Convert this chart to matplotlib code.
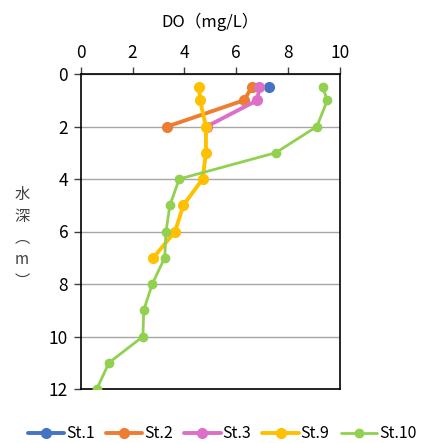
import matplotlib.pyplot as plt

plt.rcParams['font.family'] = ['Noto Sans CJK JP', 'DejaVu Sans']

stations = ['St.1', 'St.2', 'St.3', 'St.9', 'St.10']
colors = ['#4472C4', '#ED7D31', '#DE6FC6', '#FFC000', '#92D050']

# 水深 (m) と DO (mg/L)
depth_1 = [0.5]
do_1 = [7.25]
depth_2 = [0.5, 1, 2]
do_2 = [6.6, 6.3, 3.34]
depth_3 = [0.5, 1, 2]
do_3 = [6.89, 6.81, 4.86]
depth_9 = [0.5, 1, 2, 3, 4, 5, 6, 7]
do_9 = [4.57, 4.6, 4.83, 4.83, 4.7, 3.96, 3.64, 2.8]
depth_10 = [0.5, 1, 2, 3, 4, 5, 6, 7, 8, 9, 10, 11, 12]
do_10 = [9.33, 9.51, 9.11, 7.52, 3.8, 3.44, 3.29, 3.24, 2.76, 2.43, 2.4, 1.09, 0.62]

depths = [depth_1, depth_2, depth_3, depth_9, depth_10]
dos = [do_1, do_2, do_3, do_9, do_10]

fig = plt.figure(figsize=(4.25, 4.43), dpi=100)
ax = fig.add_axes([80.7 / 425, 1 - 389 / 443, (340 - 80.7) / 425, (389 - 74) / 443])

for i, name in enumerate(stations):
    lw = 2.0 if name == 'St.10' else 2.8
    ms = 6 if name == 'St.10' else 7
    ax.plot(dos[i], depths[i], '-o', color=colors[i], lw=lw, ms=ms, label=name,
            solid_capstyle='round', zorder=3 + i)

ax.set_xlim(0, 10)
ax.set_ylim(12, 0)
ax.set_xticks(range(0, 11, 2))
ax.set_yticks(range(0, 13, 2))
ax.xaxis.tick_top()
ax.xaxis.set_label_position('top')
ax.tick_params(axis='both', labelsize=12.5, length=5, width=1, color='#404040', pad=4)
ax.grid(axis='y', color='#A6A6A6', lw=1)
ax.set_axisbelow(True)
for s in ax.spines.values():
    s.set_color('black')
    s.set_linewidth(1.2)

ax.set_xlabel('DO（mg/L）', fontsize=12, labelpad=12)
fig.text(22 / 425, 1 - 238 / 443, '水\n深\n︵\nm\n︶', fontsize=11, ha='center', va='center',
         linespacing=1.35, color='#404040')

fig.legend(loc='center', bbox_to_anchor=(222 / 425, 1 - 434 / 443),
           ncol=5, frameon=False, fontsize=11.5, handlelength=2.3, handletextpad=0.1,
           columnspacing=0.7, borderaxespad=0, borderpad=0)

fig.savefig('out.png', dpi=100)
